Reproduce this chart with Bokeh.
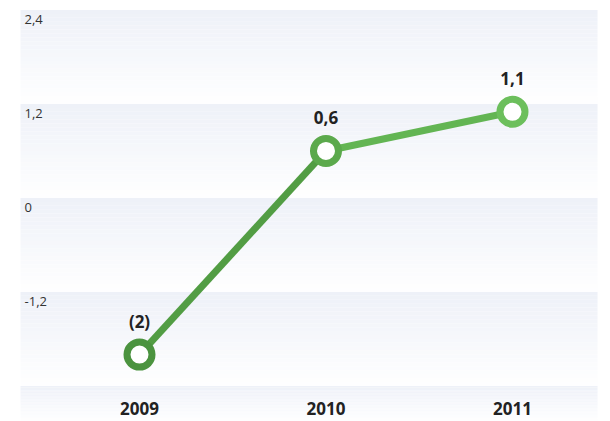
from bokeh.plotting import figure
from bokeh.models import Range1d, ColumnDataSource
from bokeh.core.properties import value
from bokeh.embed import file_html
from bokeh.resources import INLINE

years = [2009, 2010, 2011]
values = [-2.0, 0.6, 1.1]
value_labels = ["(2)", "0,6", "1,1"]
year_labels = ["2009", "2010", "2011"]
tick_values = [2.4, 1.2, 0.0, -1.2]
tick_labels = ["2,4", "1,2", "0", "-1,2"]
point_colors = ["#4b933f", "#5ba94c", "#6cbf5c"]
segment_colors = ["#529d44", "#63b553"]

W, H = 610, 421
p = figure(width=W, height=H, output_backend="svg", toolbar_location=None,
           min_border=0, x_axis_type=None, y_axis_type=None,
           outline_line_color=None, background_fill_color="white",
           border_fill_color="white")
p.grid.visible = False
p.x_range = Range1d(2008.2547, 2011.5255)
p.y_range = Range1d(-2.854, 2.521)

band_left, band_right = 2008.362, 2011.456
top_rgb = (238, 241, 248)
bot_rgb = (255, 255, 255)
N = 24
lefts, rights, tops, bottoms, colors = [], [], [], [], []
band_tops = tick_values + [-2.4]
for i, t in enumerate(band_tops):
    b = t - 1.2 if i < len(band_tops) - 1 else -2.854
    for k in range(N):
        f = k / N
        r = [round(top_rgb[c] + (bot_rgb[c] - top_rgb[c]) * f) for c in range(3)]
        lefts.append(band_left); rights.append(band_right)
        tops.append(t - (t - b) * k / N)
        bottoms.append(t - (t - b) * (k + 1) / N)
        colors.append("#%02x%02x%02x" % tuple(r))
p.quad(left=lefts, right=rights, top=tops, bottom=bottoms, fill_color=colors,
       line_color=None)

# y tick labels inside bands
p.text(x=[band_left] * len(tick_values), y=tick_values, text=tick_labels,
       x_offset=4, y_offset=5, text_align="left", text_baseline="top",
       text_font=value("Open Sans"), text_font_size="13px", text_color="#333333")

# line segments
for i in range(len(years) - 1):
    p.line(x=years[i:i + 2], y=values[i:i + 2], line_color=segment_colors[i],
           line_width=7)

src = ColumnDataSource(dict(x=years, y=values, c=point_colors, lab=value_labels,
                            ylab=year_labels, yb=[-2.4] * len(years)))
p.scatter(x="x", y="y", source=src, size=25, fill_color="white",
          line_color="c", line_width=7)

p.text(x="x", y="y", text="lab", source=src, y_offset=-33, text_align="center",
       text_baseline="middle", text_font=value("Open Sans"),
       text_font_size="17px", text_font_style="bold", text_color="#222222")

p.text(x="x", y="yb", text="ylab", source=src, y_offset=23, text_align="center",
       text_baseline="middle", text_font=value("Open Sans"),
       text_font_size="17px", text_font_style="bold", text_color="#222222")

open("out.html", "w").write(file_html(p, INLINE))
